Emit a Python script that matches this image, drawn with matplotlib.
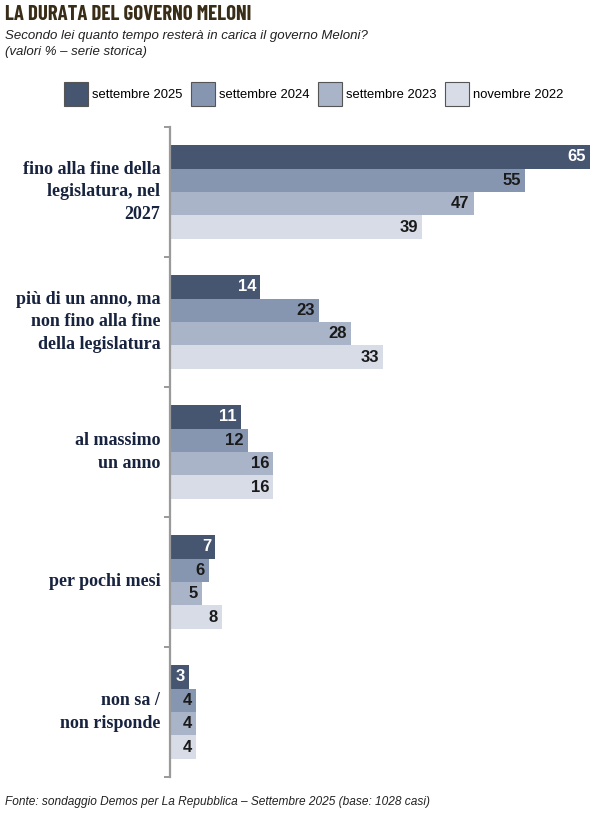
import matplotlib.pyplot as plt
import numpy as np
from matplotlib.patches import Patch

# dati
categorie = ["fino alla fine della\nlegislatura, nel\n2027",
             "più di un anno, ma\nnon fino alla fine\ndella legislatura",
             "al massimo\nun anno",
             "per pochi mesi",
             "non sa /\nnon risponde"]
serie = ["settembre 2025", "settembre 2024", "settembre 2023", "novembre 2022"]
set_2025 = [65, 14, 11, 7, 3]
set_2024 = [55, 23, 12, 6, 4]
set_2023 = [47, 28, 16, 5, 4]
nov_2022 = [39, 33, 16, 8, 4]
valori = [set_2025, set_2024, set_2023, nov_2022]

colori = ["#465570", "#8796b0", "#aab4c8", "#d7dce6"]
col_testo = ["white", "#1a1a1a", "#1a1a1a", "#1a1a1a"]

W, H = 600, 818
fig = plt.figure(figsize=(W/100, H/100), dpi=100)
ax = fig.add_axes([170/W, 1-777/H, 420/W, 650/H])

y = np.arange(len(categorie))
h = 0.18
for j in range(4):
    pos = y + (j-1.5)*h
    ax.barh(pos, valori[j], height=h, color=colori[j], edgecolor="none")
    for p, v in zip(pos, valori[j]):
        ax.annotate(str(v), (v, p), xytext=(-3, 0), textcoords="offset points",
                    ha="right", va="center", fontsize=12, fontweight="bold",
                    family="Liberation Sans", color=col_testo[j])

ax.set_xlim(0, 65)
ax.set_ylim(4.5, -0.5)
for s in ["top", "right", "bottom"]:
    ax.spines[s].set_visible(False)
ax.spines["left"].set_color("#9a9a9a")
ax.spines["left"].set_linewidth(1.6)
ax.set_xticks([])
ax.set_yticks(np.arange(-0.5, 5, 1))
ax.set_yticklabels([])
ax.tick_params(axis="y", direction="out", length=4, width=1.4, color="#9a9a9a")

for i, c in enumerate(categorie):
    ax.text(-1.5, i, c, ha="right", va="center", fontsize=13, fontweight="bold",
            family="Liberation Serif", color="#17233f", linespacing=1.4)

# titolo
fig.text(5/W, 1-14/H, "LA DURATA DEL GOVERNO MELONI", fontsize=15, fontweight="bold",
         family=["Barlow Condensed", "Roboto", "DejaVu Sans"], color="#3a2d18", va="center")
fig.text(5/W, 1-36/H, "Secondo lei quanto tempo resterà in carica il governo Meloni?",
         fontsize=9.5, style="italic", family="Liberation Sans", color="#222222", va="center")
fig.text(5/W, 1-52/H, "(valori % – serie storica)",
         fontsize=9.5, style="italic", family="Liberation Sans", color="#222222", va="center")

handles = [Patch(facecolor=colori[j], edgecolor="#555555", linewidth=0.8, label=serie[j]) for j in range(4)]
fig.legend(handles=handles, loc="center", bbox_to_anchor=(314/W, 1-94/H), ncol=4,
           frameon=False, prop={"family": "Liberation Sans", "size": 9.4},
           handlelength=1.85, handleheight=2.5, handletextpad=0.3, columnspacing=0.65)

fig.text(5/W, 1-802/H, "Fonte: sondaggio Demos per La Repubblica – Settembre 2025 (base: 1028 casi)",
         fontsize=8.6, style="italic", family="Liberation Sans", color="#222222", va="center")

fig.savefig("out.png", dpi=100)
